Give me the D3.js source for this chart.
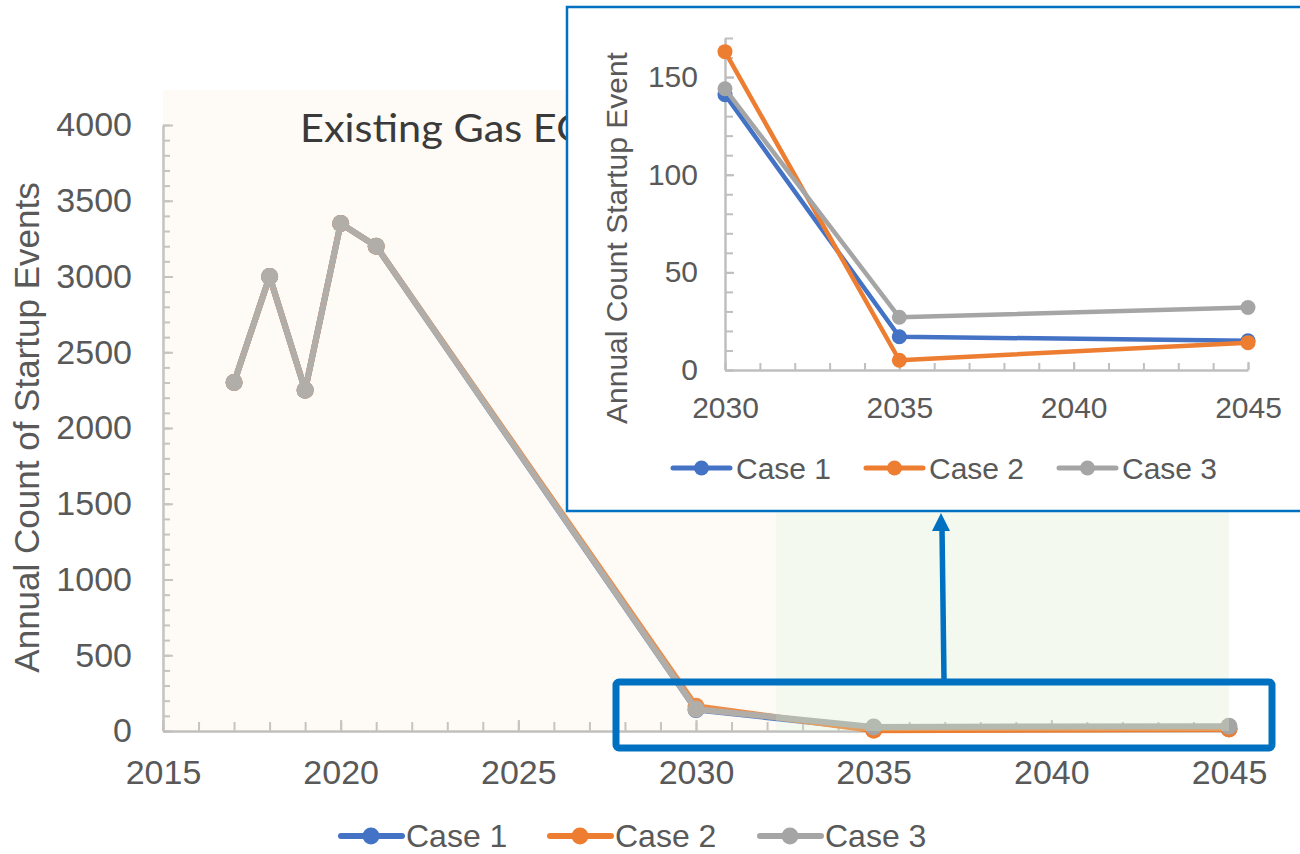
<!DOCTYPE html>
<html>
<head>
<meta charset="utf-8">
<script src="https://cdn.jsdelivr.net/npm/d3@7"></script>
<style>
  html, body { margin: 0; padding: 0; background: #ffffff; }
  svg { display: block; font-family: "Liberation Sans", Arial, sans-serif; }
</style>
</head>
<body>
<svg id="chart" width="1300" height="854"></svg>
<script>
// ---- data ----
const years = [2017, 2018, 2019, 2020, 2021, 2030, 2035, 2045];
const seriesNames = ["Case 1", "Case 2", "Case 3"];
const case1 = [2300, 3000, 2250, 3350, 3200, 141, 17, 15];
const case2 = [2300, 3000, 2250, 3350, 3200, 163, 5, 14];
const case3 = [2300, 3000, 2250, 3350, 3200, 144, 27, 32];
const insetYears = [2030, 2035, 2045];

const mainXTicks = [2015, 2020, 2025, 2030, 2035, 2040, 2045];
const mainYTicks = [0, 500, 1000, 1500, 2000, 2500, 3000, 3500, 4000];
const insetXTicks = [2030, 2035, 2040, 2045];
const insetYTicks = [0, 50, 100, 150];

// period shading (historic / near-term, later years)
const periodBands = [[2015, 2032.25], [2032.25, 2045]];

const titleText = "Existing Gas EGUs";
const mainYLabel = "Annual Count of Startup Events";
const insetYLabel = "Annual Count Startup Event";

// ---- styles ----
const seriesColors = ["#4472c4", "#ed7d31", "#a5a5a5"];
const bandColors = ["rgba(248,227,193,0.145)", "rgba(215,235,202,0.3)"];
const axisColor = "#bfbfbf";
const textColor = "#595959";
const highlight = "#0070c0";

const allSeries = [case1, case2, case3];
const svg = d3.select("#chart");

// ---- main chart ----
const x = d3.scaleLinear().domain([2015, 2045]).range([163, 1229]);
const y = d3.scaleLinear().domain([0, 4000]).range([731, 125]);

function styleAxis(g, size) {
  g.select(".domain").attr("stroke", axisColor).attr("stroke-width", 2.5);
  g.selectAll(".tick line").attr("stroke", axisColor).attr("stroke-width", 2);
  g.selectAll(".tick text").attr("fill", textColor).attr("font-size", size)
    .attr("font-family", "'Liberation Sans', Arial, sans-serif");
}
function styleMinor(g) {
  g.select(".domain").remove();
  g.selectAll("line").attr("stroke", axisColor).attr("stroke-width", 2);
}

// minor ticks
svg.append("g").attr("transform", `translate(${x(2015)},0)`)
  .call(d3.axisLeft(y).tickValues(d3.range(0, 4001, 100)).tickSize(-7).tickFormat(""))
  .call(styleMinor);
svg.append("g").attr("transform", `translate(0,${y(0)})`)
  .call(d3.axisBottom(x).tickValues(d3.range(2015, 2046, 1)).tickSize(-9).tickFormat(""))
  .call(styleMinor);

svg.append("g").attr("transform", `translate(${x(2015)},0)`)
  .call(d3.axisLeft(y).tickValues(mainYTicks).tickSize(-10).tickPadding(31).tickSizeOuter(0).tickFormat(d3.format("d")))
  .call(g => styleAxis(g, 34));
svg.append("g").attr("transform", `translate(0,${y(0)})`)
  .call(d3.axisBottom(x).tickValues(mainXTicks).tickSize(-11).tickPadding(29).tickSizeOuter(0).tickFormat(d3.format("d")))
  .call(g => styleAxis(g, 34));

svg.append("text")
  .attr("transform", `translate(39,${(182 + 673) / 2}) rotate(-90)`)
  .attr("text-anchor", "middle")
  .attr("font-size", 35)
  .attr("fill", textColor)
  .text(mainYLabel);

const mainLine = d3.line().x(d => x(d[0])).y(d => y(d[1]));
allSeries.forEach((vals, i) => {
  const pts = years.map((yr, j) => [yr, vals[j]]);
  const g = svg.append("g");
  g.append("path").attr("d", mainLine(pts)).attr("fill", "none")
    .attr("stroke", seriesColors[i]).attr("stroke-width", 6).attr("stroke-linejoin", "round");
  g.selectAll("circle").data(pts).join("circle")
    .attr("cx", d => x(d[0])).attr("cy", d => y(d[1])).attr("r", 8.5)
    .attr("fill", seriesColors[i]);
});

// translucent period shading laid over the plot
svg.append("g").selectAll("rect").data(periodBands).join("rect")
  .attr("x", d => x(d[0]))
  .attr("width", d => x(d[1]) - x(d[0]))
  .attr("y", 90)
  .attr("height", y(0) - 90)
  .attr("fill", (d, i) => bandColors[i]);

svg.append("text")
  .attr("transform", "translate(300,142) scale(1,0.94)")
  .attr("font-family", "Lato, 'Open Sans', sans-serif")
  .attr("font-size", 41.5)
  .attr("fill", "#3a3a3a")
  .text(titleText);

// main legend
const legendX = [341, 550, 760];
seriesNames.forEach((name, i) => {
  const g = svg.append("g").attr("transform", `translate(${legendX[i]},836)`);
  g.append("line").attr("x1", 0).attr("x2", 61).attr("stroke", seriesColors[i]).attr("stroke-width", 6).attr("stroke-linecap", "round");
  g.append("circle").attr("cx", 30).attr("r", 8.5).attr("fill", seriesColors[i]);
  g.append("text").attr("x", 65).attr("y", 11).attr("font-size", 32).attr("fill", textColor).text(name);
});

// highlight box and arrow
svg.append("rect").attr("x", 616).attr("y", 682).attr("width", 656).attr("height", 66).attr("rx", 3)
  .attr("fill", "none").attr("stroke", highlight).attr("stroke-width", 7);
svg.append("line").attr("x1", 944).attr("y1", 680).attr("x2", 942).attr("y2", 528)
  .attr("stroke", highlight).attr("stroke-width", 5.5);
svg.append("path").attr("d", "M941,513 L950,531 L932,531 Z").attr("fill", highlight);

// ---- inset chart ----
svg.append("rect").attr("x", 567).attr("y", 7).attr("width", 745).attr("height", 504)
  .attr("fill", "#ffffff").attr("stroke", highlight).attr("stroke-width", 2.5);

const xi = d3.scaleLinear().domain([2030, 2045]).range([725, 1248]);
const yi = d3.scaleLinear().domain([0, 170]).range([370, 38]);

svg.append("g").attr("transform", `translate(${xi(2030)},0)`)
  .call(d3.axisLeft(yi).tickValues(d3.range(0, 171, 10)).tickSize(-8).tickFormat(""))
  .call(styleMinor);
svg.append("g").attr("transform", `translate(0,${yi(0)})`)
  .call(d3.axisBottom(xi).tickValues(d3.range(2030, 2046, 1)).tickSize(-7).tickFormat(""))
  .call(styleMinor);

svg.append("g").attr("transform", `translate(${xi(2030)},0)`)
  .call(d3.axisLeft(yi).tickValues(insetYTicks).tickSize(-9).tickPadding(27).tickSizeOuter(0).tickFormat(d3.format("d")))
  .call(g => styleAxis(g, 30));
svg.append("g").attr("transform", `translate(0,${yi(0)})`)
  .call(d3.axisBottom(xi).tickValues(insetXTicks).tickSize(-8).tickPadding(27).tickSizeOuter(0).tickFormat(d3.format("d")))
  .call(g => styleAxis(g, 30));

svg.append("text")
  .attr("transform", `translate(627,238) rotate(-90)`)
  .attr("text-anchor", "middle")
  .attr("font-size", 30)
  .attr("fill", textColor)
  .text(insetYLabel);

const insetLine = d3.line().x(d => xi(d[0])).y(d => yi(d[1]));
allSeries.forEach((vals, i) => {
  const pts = insetYears.map(yr => [yr, vals[years.indexOf(yr)]]);
  const g = svg.append("g");
  g.append("path").attr("d", insetLine(pts)).attr("fill", "none")
    .attr("stroke", seriesColors[i]).attr("stroke-width", 4.5).attr("stroke-linejoin", "round");
  g.selectAll("circle").data(pts).join("circle")
    .attr("cx", d => xi(d[0])).attr("cy", d => yi(d[1])).attr("r", 7.5)
    .attr("fill", seriesColors[i]);
});

const insetLegendX = [673, 866, 1059];
seriesNames.forEach((name, i) => {
  const g = svg.append("g").attr("transform", `translate(${insetLegendX[i]},468)`);
  g.append("line").attr("x1", 0).attr("x2", 57).attr("stroke", seriesColors[i]).attr("stroke-width", 5).attr("stroke-linecap", "round");
  g.append("circle").attr("cx", 28.5).attr("r", 7.5).attr("fill", seriesColors[i]);
  g.append("text").attr("x", 63).attr("y", 11).attr("font-size", 30).attr("fill", textColor).text(name);
});
</script>
</body>
</html>
